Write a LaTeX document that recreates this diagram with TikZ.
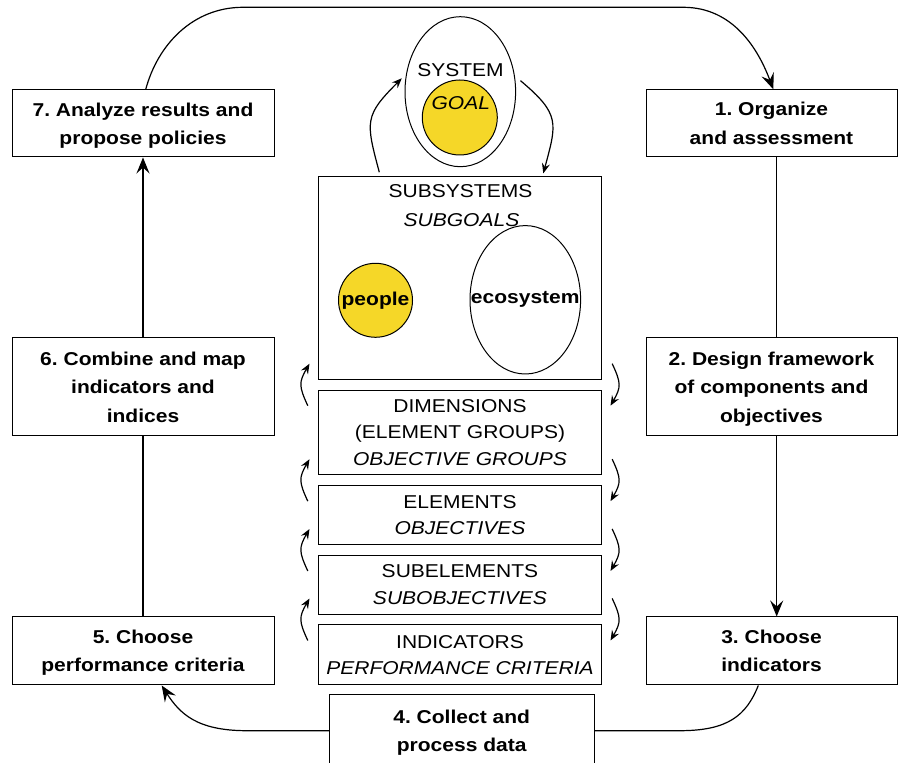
\documentclass[tikz,border=0pt]{standalone}
\usepackage{fontspec}
\setmainfont{Liberation Sans}[FakeStretch=1.13]
\usepackage{tikz}
\usetikzlibrary{arrows.meta, positioning, calc, shapes.geometric}
\definecolor{goalyellow}{RGB}{245,215,40}
\frenchspacing

\begin{document}
\begin{tikzpicture}[
    x=1pt, y=1pt,
    node distance=9.8pt,
    stepbox/.style={rectangle, draw=black, line width=1pt, minimum width=262pt,
                    minimum height=67pt, align=center, inner sep=0pt, text depth=0pt,
                    font={\fontsize{18.6}{28.3}\selectfont\bfseries}},
    level/.style={rectangle, draw=black, line width=1pt, minimum width=283.4pt,
                  align=center, inner sep=0pt, font={\fontsize{18.6}{26.5}\selectfont}},
    lbl/.style={anchor=base, inner sep=0pt, font={\fontsize{18.6}{22}\selectfont}},
    blob/.style={draw=black, line width=1pt, inner sep=0pt},
    arr/.style={-{Stealth[length=16pt, width=13pt, inset=6pt]}, line width=1.2pt},
    link/.style={line width=1.2pt},
    turn/.style={-{Stealth[length=10pt, width=8pt, inset=3.5pt]}, line width=1.2pt},
  ]
  \useasboundingbox (0,0) rectangle (898,763);

  % steps round the loop
  \node[stepbox] (b7) at (143,639.5) {7. Analyze results and\\propose policies};
  \node[stepbox, minimum height=98pt] (b6) at (143,376) {6. Combine and map\\indicators and\\indices};
  \node[stepbox, minimum height=68pt] (b5) at (143,112) {5. Choose\\performance criteria};
  \node[stepbox, minimum width=251pt] (b1) at (771.5,639.7) {1. Organize\\and assessment};
  \node[stepbox, minimum width=251pt, minimum height=98pt] (b2) at (771.5,376) {2. Design framework\\of components and\\objectives};
  \node[stepbox, minimum width=251pt, minimum height=68pt] (b3) at (771.5,112) {3. Choose\\indicators};
  \node[stepbox, minimum width=264.7pt, minimum height=71.4pt] (b4) at (461.7,32.3) {4. Collect and\\process data};

  % system and goal
  \node[blob, ellipse, minimum width=110.6pt, minimum height=150pt] (sys) at (460.3,671.3) {};
  \node[blob, circle, fill=goalyellow, minimum size=75pt] (goal) at (459.8,645.5) {};
  \node[lbl] (syst) at (460.5,686.3) {SYSTEM};
  \node[lbl] (goalt) at (460.8,653.7) {\textit{GOAL}};

  % hierarchy
  \node[level, minimum height=202.6pt] (sub) at (460,485) {};
  \node[level, minimum height=84.7pt, below=of sub] (dim) {DIMENSIONS\\(ELEMENT GROUPS)\\\textit{OBJECTIVE GROUPS}};
  \node[level, minimum height=59pt, below=of dim] (elem) {ELEMENTS\\\textit{OBJECTIVES}};
  \node[level, minimum height=58.7pt, below=of elem] (subel) {SUBELEMENTS\\\textit{SUBOBJECTIVES}};
  \node[level, minimum height=60pt, below=of subel] (ind) {INDICATORS\\\textit{PERFORMANCE CRITERIA}};

  \node[lbl] (subt) at (460.5,565) {SUBSYSTEMS};
  \node[lbl] (subg) at (461.5,536.3) {\textit{SUBGOALS}};
  \node[blob, circle, fill=goalyellow, minimum size=74pt, font={\fontsize{18.6}{22}\selectfont\bfseries}] (people) at (375.5,462.7) {people};
  \node[blob, ellipse, minimum width=110.6pt, minimum height=148.4pt] (eco) at (525.3,463.2) {};
  \node[inner sep=0pt, font={\fontsize{18.6}{22}\selectfont\bfseries}] (ecot) at (eco) {ecosystem};

  % routing corners
  \coordinate (topL) at (243,755.7);
  \coordinate (topR) at (683.3,755.7);
  \coordinate (botL) at (246.7,32.3);
  \coordinate (botR) at (680,32.3);

  \draw[arr] ([xshift=2.7pt]b7.north) .. controls +(12,45) and +(-50,0) .. (topL) -- (topR)
             .. controls +(50,0) and +(-15,40) .. ([xshift=1.8pt]b1.north);
  \draw[link] ([xshift=5.2pt]b1.south) -- ([xshift=5.2pt]b2.north);
  \draw[arr] ([xshift=5.2pt]b2.south) -- ([xshift=5.2pt]b3.north);
  \draw[link] (b4.east) -- (botR) .. controls +(48,0) and +(-12,-30) .. ([xshift=-13.2pt]b3.south);
  \draw[arr] (b4.west) -- (botL) .. controls +(-50,0) and +(18,-28) .. ([xshift=18.7pt]b5.south);
  \draw[link] (b5) -- (b6);
  \draw[arr] (b6) -- (b7);

  % up and down between levels
  \draw[turn] ([xshift=-80.7pt,yshift=4pt]sub.north) to[out=105, in=225, looseness=1.4] ([xshift=-2.7pt,yshift=13.4pt]sys.west);
  \draw[turn] ([xshift=4.4pt,yshift=11pt]sys.east) to[out=-40, in=75, looseness=1.4] ([xshift=83.3pt,yshift=2.8pt]sub.north);
  \foreach \a/\b in {sub/dim, dim/elem, elem/subel, subel/ind} {
    \draw[turn] ($(\a.south west)!0.5!(\b.north west)+(-10,-21)$) to[out=115, in=240, looseness=1.3] ($(\a.south west)!0.5!(\b.north west)+(-8.3,21)$);
    \draw[turn] ($(\a.south east)!0.5!(\b.north east)+(10,21)$) to[out=-65, in=60, looseness=1.3] ($(\a.south east)!0.5!(\b.north east)+(8.3,-21)$);
  }
\end{tikzpicture}
\end{document}
